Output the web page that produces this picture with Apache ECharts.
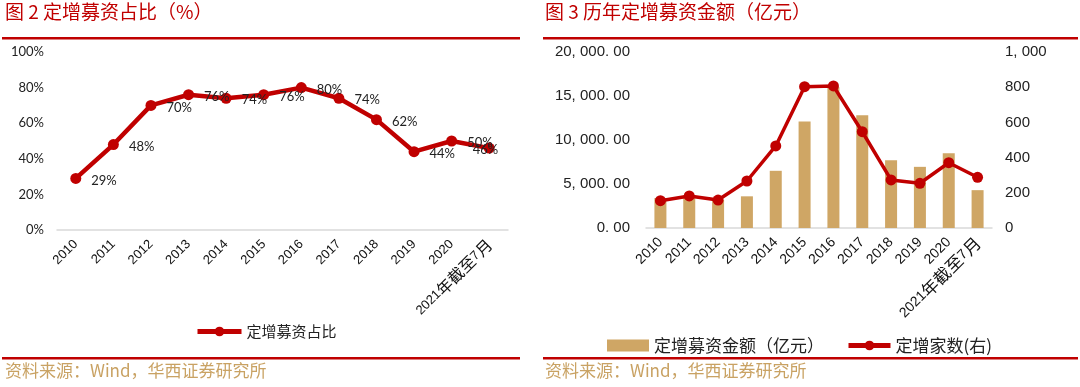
<!DOCTYPE html>
<html><head><meta charset="utf-8">
<script src="https://cdn.jsdelivr.net/npm/echarts@6/dist/echarts.min.js"></script>
<style>html,body{margin:0;padding:0;background:#fff}#c{width:1080px;height:387px}</style>
</head><body><div id="c"></div>
<script>
const categories = ['2010','2011','2012','2013','2014','2015','2016','2017','2018','2019','2020','2021年截至7月'];
const sharePct = [29,48,70,76,74,76,80,74,62,44,50,46];
const amount = [3400,3700,3200,3600,6500,12100,16000,12800,7700,6950,8500,4300];
const counts = [155,182,159,267,466,803,807,547,273,254,371,288];
const leftTicks = ['0%','20%','40%','60%','80%','100%'];

const RED = '#c00000', GOLD = '#cfa665', SRC = '#c9a263';
const cjk = '"Noto Sans CJK SC", "Noto Sans", sans-serif';
const num = '"Liberation Sans", Arial, sans-serif';

const catFmt = v => v.replace(/([^\x00-\x7f]+)/g, '{c|$1}');

const shareData = sharePct.map((v, i) => i === sharePct.length - 1
  ? {value: v, label: {offset: [-32, 2]}} : v);

const chart = echarts.init(document.getElementById('c'));
chart.setOption({
  animation: false,
  graphic: [
    {type:'text', left:5, top:2, style:{text:'图 2 定增募资占比（%）', fill:RED, font:'19px '+cjk}},
    {type:'text', left:545, top:2, style:{text:'图 3 历年定增募资金额（亿元）', fill:RED, font:'19px '+cjk}},
    {type:'rect', shape:{x:2, y:37, width:518, height:2.5}, style:{fill:RED}},
    {type:'rect', shape:{x:543, y:37, width:535, height:2.5}, style:{fill:RED}},
    {type:'rect', shape:{x:2, y:357, width:518, height:2.5}, style:{fill:RED}},
    {type:'rect', shape:{x:543, y:357, width:535, height:2.5}, style:{fill:RED}},
    {type:'text', left:5, top:362, style:{text:'资料来源：Wind，华西证券研究所', fill:SRC, font:'17px '+cjk}},
    {type:'text', left:545, top:362, style:{text:'资料来源：Wind，华西证券研究所', fill:SRC, font:'17px '+cjk}}
  ],
  legend: [
    {data:['定增募资占比'], left:190, top:319, itemWidth:44, itemHeight:12, itemGap:10,
     lineStyle:{width:5}, itemStyle:{borderWidth:0},
     textStyle:{fontSize:15, fontFamily:cjk, color:'#222'}},
    {data:[{name:'定增募资金额（亿元）', icon:'rect'}, '定增家数(右)'], left:602, top:332, itemWidth:42, itemHeight:12, itemGap:22,
     lineStyle:{width:5},
     textStyle:{fontSize:17, fontFamily:cjk, color:'#222'}}
  ],
  grid: [
    {left:57, top:52, width:451, height:178},
    {left:646, top:52, width:346, height:176}
  ],
  xAxis: [
    {type:'category', gridIndex:0, data:categories, boundaryGap:true,
     axisLine:{lineStyle:{color:'#d9d9d9', width:1.5}}, axisTick:{show:false},
     axisLabel:{rotate:45, interval:0, margin:12, fontSize:13, fontFamily:num, color:'#111',
       formatter:catFmt, rich:{c:{fontSize:16, fontFamily:cjk, color:'#111'}}}},
    {type:'category', gridIndex:1, data:categories, boundaryGap:true,
     axisLine:{lineStyle:{color:'#d9d9d9', width:1.5}}, axisTick:{show:false},
     axisLabel:{rotate:45, interval:0, margin:12, fontSize:14, fontFamily:num, color:'#111',
       formatter:catFmt, rich:{c:{fontSize:17, fontFamily:cjk, color:'#111'}}}}
  ],
  yAxis: [
    {type:'value', gridIndex:0, min:0, max:100, interval:20, splitLine:{show:false},
     axisLine:{show:false}, axisTick:{show:false},
     axisLabel:{margin:13, fontSize:13, fontFamily:'Lato, sans-serif', color:'#222', formatter:v=>leftTicks[v/20]}},
    {type:'value', gridIndex:1, min:0, max:20000, interval:5000, splitLine:{show:false},
     axisLine:{show:false}, axisTick:{show:false},
     axisLabel:{margin:16, fontSize:15, fontFamily:num, color:'#222',
       formatter:v=>{const s=v.toLocaleString('en-US',{minimumFractionDigits:2}); return s.replace(/,/g,', ').replace('.', '. ');}}},
    {type:'value', gridIndex:1, position:'right', min:0, max:1000, interval:200, splitLine:{show:false},
     axisLine:{show:false}, axisTick:{show:false},
     axisLabel:{margin:13, fontSize:15, fontFamily:num, color:'#222',
       formatter:v=>v.toLocaleString('en-US').replace(/,/g,', ')}}
  ],
  series: [
    {name:'定增募资占比', type:'line', xAxisIndex:0, yAxisIndex:0, data:shareData,
     symbol:'circle', symbolSize:11, itemStyle:{color:RED}, lineStyle:{color:RED, width:4.5},
     label:{show:true, position:'right', distance:10, offset:[0,2], formatter:'{c}%', fontSize:13, fontFamily:'Lato, sans-serif', color:'#222'}},
    {name:'定增募资金额（亿元）', type:'bar', xAxisIndex:1, yAxisIndex:1, data:amount, barWidth:12,
     itemStyle:{color:GOLD}},
    {name:'定增家数(右)', type:'line', xAxisIndex:1, yAxisIndex:2, data:counts, z:5,
     symbol:'circle', symbolSize:11, itemStyle:{color:RED}, lineStyle:{color:RED, width:3.5}}
  ]
});
</script></body></html>
